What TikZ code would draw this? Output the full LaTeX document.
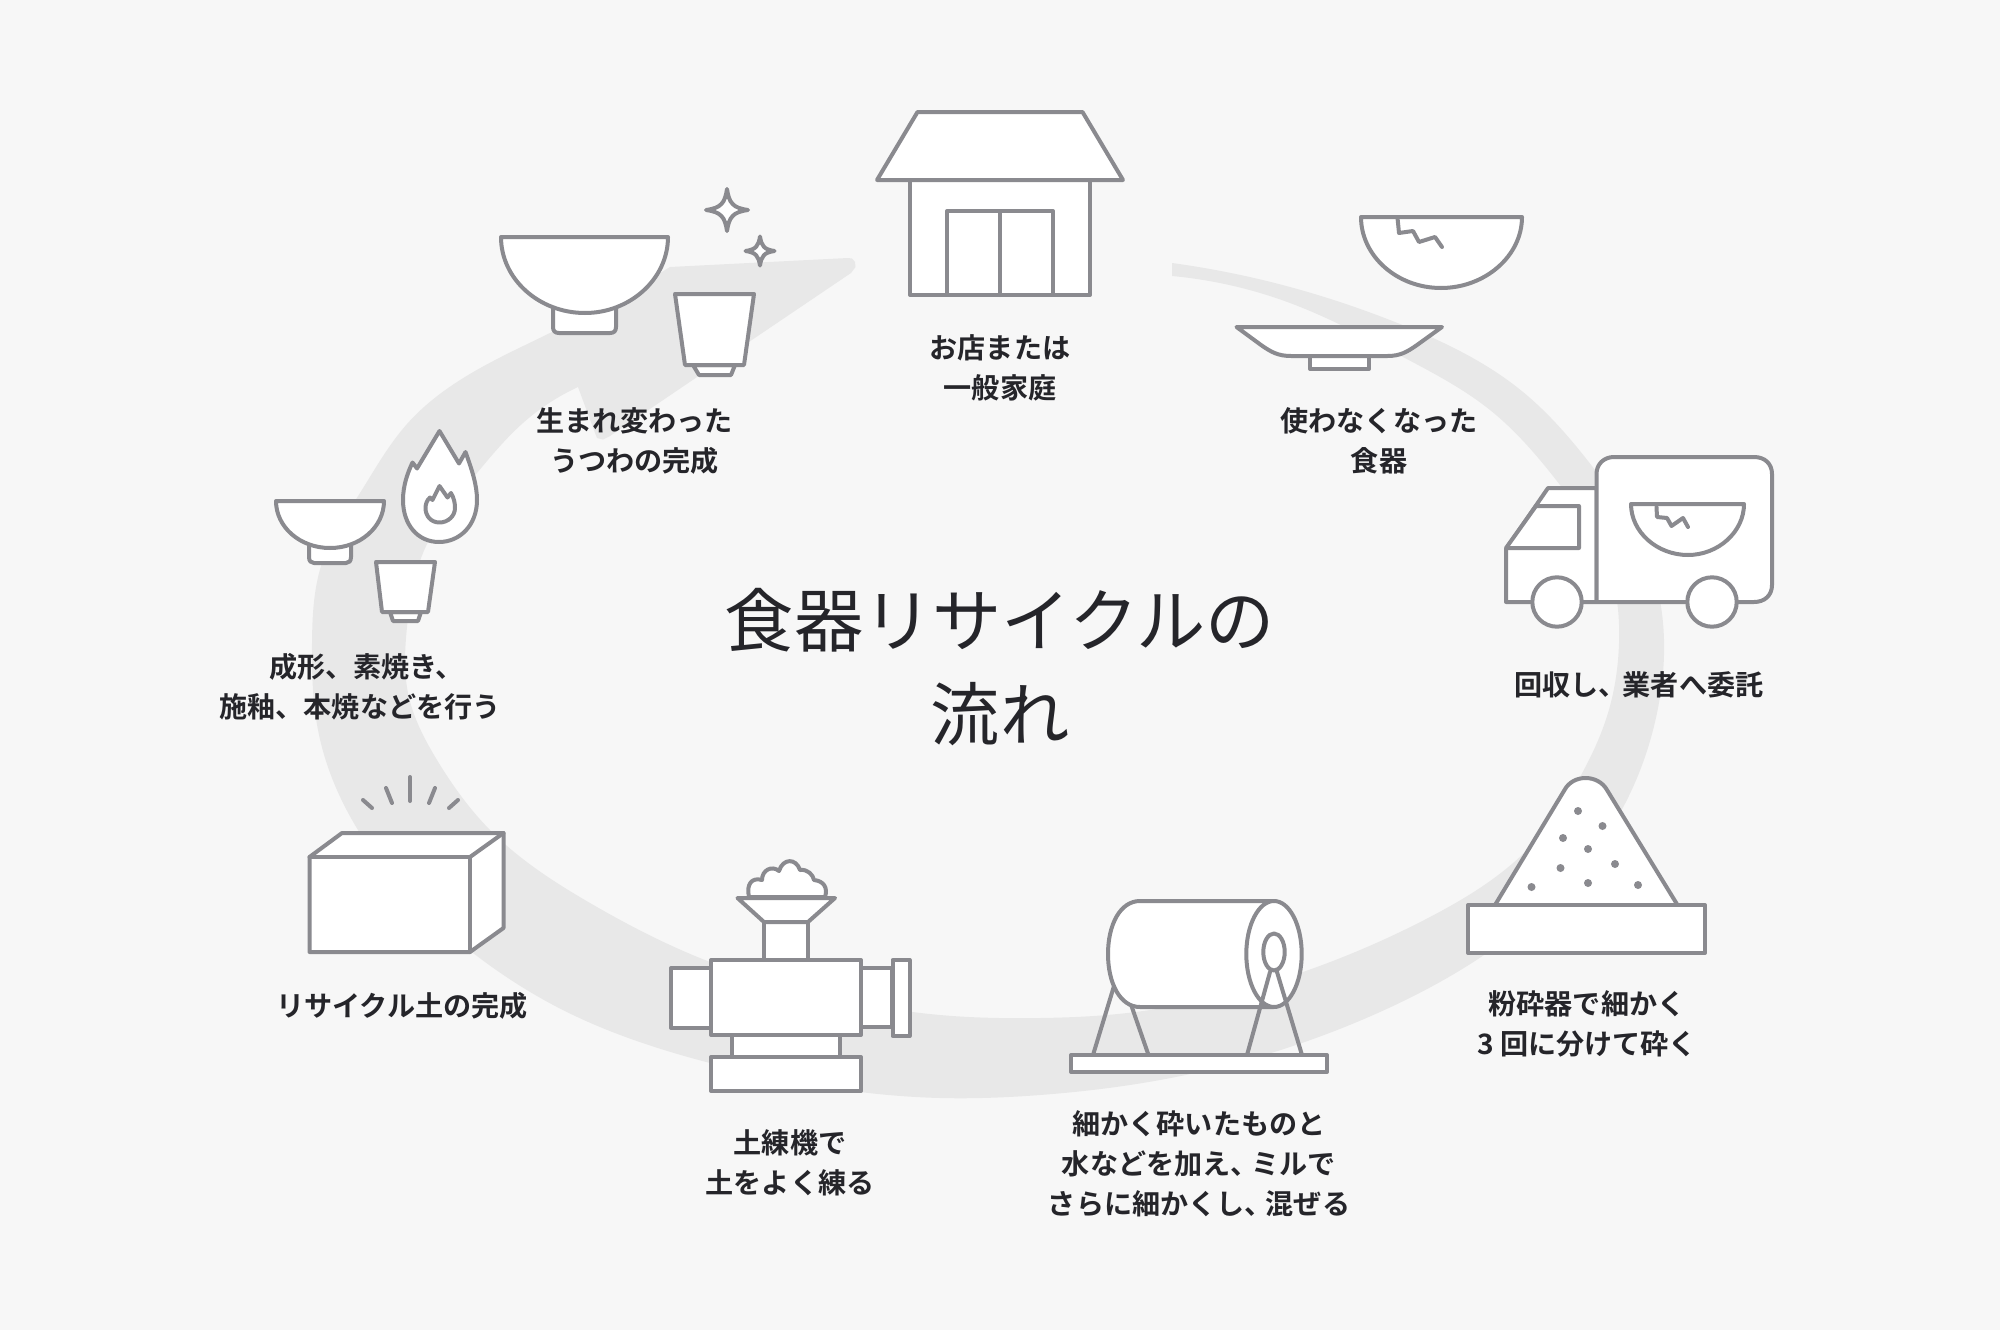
\documentclass[tikz,border=0pt]{standalone}
\usepackage{fontspec}
\usetikzlibrary{hobby}
\setmainfont{Noto Sans CJK JP Bold}
\newfontfamily\titlefont{Noto Sans CJK JP}
\definecolor{bgc}{HTML}{F7F7F7}
\definecolor{bandc}{HTML}{E8E8E8}
\definecolor{strokec}{HTML}{8A8A8F}
\definecolor{textc}{HTML}{25252A}
\tikzset{
  ic/.style={draw=strokec,fill=white,line width=0.2cm,line join=round,line cap=round},
  il/.style={draw=strokec,line width=0.2cm,line join=round,line cap=round},
  lab/.style={text=textc,align=center,inner sep=0pt,font=\fontsize{40}{56.9}\selectfont},
  ttl/.style={text=textc,align=center,inner sep=0pt,font=\titlefont\fontsize{98.5}{134}\selectfont},
  dot/.style={fill=strokec,draw=none}
}
\begin{document}
\begin{tikzpicture}[x=0.05cm,y=-0.05cm]
\useasboundingbox (0,0) rectangle (2000,1330);
\fill[bgc] (0,0) rectangle (2000,1330);
% band arrow
\fill[bandc,use Hobby shortcut] (1172,263) .. (1290,287) .. (1400,324) .. (1523,392) .. (1595,470) .. (1645,550) .. (1664,640) .. (1657,713) .. (1620,813) .. (1487,953) .. (1380,1012) .. (1160,1080) .. (1040,1095) .. (940,1098) .. (860,1092) .. (710,1063) .. (557,1007) .. (473,953) .. (358,830) .. (318,730) .. (312,643) .. (323,560) .. (360,493) .. (407,424) .. (457,382) .. (550,333) .. (670,267)
 -- (848,258) -- (852,258.5) -- (855,262) -- (855.5,267) -- (851,273) -- (703,373) -- (610,436) -- (603,439.5) -- (597,438) -- (595,433) -- (578,387)
 .. (523,423) .. (477,473) .. (423,553) .. (407,627) .. (408,693) .. (437,760) .. (490,830) .. (590,903) .. (710,962) .. (820,995) .. (940,1015) .. (1040,1018) .. (1107,1015) .. (1300,973) .. (1430,917) .. (1530,847) .. (1580,777) .. (1608,713) .. (1619,643) .. (1610,570) .. (1560,485) .. (1490,410) .. (1403,357) .. (1290,303) .. (1172,276) -- cycle;
% house
\path[ic] (910,180) rectangle (1090,295);
\path[ic] (947,211) rectangle (1053,295);
\draw[il] (1000,211) -- (1000,295);
\path[ic] (917.5,112) -- (1082.5,112) -- (1123,180) -- (877,180) -- cycle;
% finished bowl
\path[ic] (553,300) -- (553,327) .. controls (553,331) and (555,333) .. (559,333) -- (610,333) .. controls (614,333) and (616,331) .. (616,327) -- (616,300) -- cycle;
\path[ic] (501,237) -- (668,237) .. controls (668,279) and (630,313) .. (585,313) .. controls (539,313) and (501,279) .. (501,237) -- cycle;
\path[ic] (693,365) -- (699,375) -- (731,375) -- (735,365) -- cycle;
\path[ic] (675,294) -- (754,294) -- (744,365) -- (685,365) -- cycle;
\path[ic] (727,189) .. controls (729,203) and (733,208) .. (748,210) .. controls (733,212) and (729,217) .. (727,231) .. controls (725,217) and (721,212) .. (706,210) .. controls (721,208) and (725,203) .. (727,189) -- cycle;
\path[ic] (760,236.5) .. controls (761.5,246) and (764,249.5) .. (774.5,251) .. controls (764,252.5) and (761.5,256) .. (760,265.5) .. controls (758.5,256) and (756,252.5) .. (745.5,251) .. controls (756,249.5) and (758.5,246) .. (760,236.5) -- cycle;
% plate
\path[ic] (1310,350) rectangle (1369,369);
\path[ic] (1236.5,327) -- (1442,327) -- (1417,345) .. controls (1407,352) and (1400,356) .. (1387.5,356) -- (1291,356) .. controls (1278,356) and (1271,352) .. (1261,345) -- cycle;
% cracked bowl
\path[ic] (1361,217) -- (1522,217) .. controls (1522,256) and (1485,288) .. (1441,288) .. controls (1397,288) and (1361,256) .. (1361,217) -- cycle;
\draw[il] (1397.5,218) -- (1399,233) -- (1413,231) -- (1419,242) -- (1435,237) -- (1442,247);
% truck
\path[ic] (1596.5,488) -- (1548,488) -- (1506,549) -- (1506,602) -- (1596.5,602) -- cycle;
\path[ic] (1536,506) -- (1579,506) -- (1579,548) -- (1506,548) -- cycle;
\path[ic] (1596.5,602) -- (1596.5,474) .. controls (1596.5,464) and (1604,457) .. (1614,457) -- (1754,457) .. controls (1765,457) and (1772,464) .. (1772,474) -- (1772,585) .. controls (1772,595) and (1765,602) .. (1754,602) -- cycle;
\path[ic] (1557,602) circle[radius=24.7];
\path[ic] (1712,602) circle[radius=24.7];
\path[ic] (1631,504) -- (1744,504) .. controls (1744,532) and (1718,555) .. (1688,555) .. controls (1657,555) and (1631,532) .. (1631,504) -- cycle;
\draw[il] (1656.5,507) -- (1657,517) -- (1667,518) -- (1671.5,526) -- (1683,518) -- (1688,527);
% pile
\path[ic] (1495,905) -- (1564.5,790) .. controls (1573,774) and (1598,774) .. (1607,790) -- (1677.5,905) -- cycle;
\path[ic] (1468,905) rectangle (1705,953);
\foreach \p in {(1578,811),(1602.5,826),(1563,838),(1588,849),(1560.5,868),(1615,864),(1531.5,887),(1588,883),(1638,885)}
  \fill[dot] \p circle[radius=4];
% mill
\path[ic] (1071,1055) rectangle (1327,1072);
\draw[il] (1114,986) -- (1093,1055);
\draw[il] (1131.5,1006) -- (1148.5,1055);
\path[ic] (1273.5,901) -- (1140,901) .. controls (1120,901) and (1108,925) .. (1108,954) .. controls (1108,983) and (1120,1007) .. (1140,1007) -- (1273.5,1007) -- cycle;
\path[ic] (1274,954) ellipse[x radius=27.7,y radius=53];
\draw[il] (1270,972) -- (1247,1055);
\draw[il] (1277,972) -- (1302,1055);
\path[ic] (1274,952) ellipse[x radius=10.7,y radius=18.5];
% grinder
\path[ic] (671,968) rectangle (711,1028);
\path[ic] (861,968) rectangle (892,1027);
\path[ic] (892.5,960) rectangle (909.5,1036);
\path[ic] (732,1035) rectangle (840,1057);
\path[ic] (711,1057) rectangle (861,1091);
\path[ic] (711,960) rectangle (861,1035);
\path[ic] (764,922) rectangle (808,960);
\path[ic] (749,897) .. controls (746,884) and (752,877) .. (762,880) .. controls (762,870) and (772,865) .. (779,871) .. controls (783,858) and (796,858) .. (800,870) .. controls (808,869) and (813,875) .. (814,880) .. controls (824,881) and (828,888) .. (825,897) -- cycle;
\path[ic] (737.5,898) -- (835,898) -- (808,922) -- (764,922) -- cycle;
% clay box
\path[ic] (309.5,857) -- (342,833) -- (503.5,833) -- (503.5,928) -- (470,952) -- (309.5,952) -- cycle;
\draw[il] (309.5,857) -- (470,857) -- (470,952);
\draw[il] (470,857) -- (503.5,833);
\draw[il] (363,800) -- (372,808);
\draw[il] (386,788) -- (392,803);
\draw[il] (410,777) -- (410,801);
\draw[il] (435,788) -- (429,803);
\draw[il] (458,800) -- (449,808);
% firing
\path[ic] (309,540) -- (309,557) .. controls (309,561) and (311,563) .. (314,563) -- (346,563) .. controls (349,563) and (351,561) .. (351,557) -- (351,540) -- cycle;
\path[ic] (276,501) -- (384,501) .. controls (384,527) and (360,548) .. (330,548) .. controls (300,548) and (276,527) .. (276,501) -- cycle;
\path[ic] (390,612) -- (393,621) -- (418,621) -- (421,612) -- cycle;
\path[ic] (376,562) -- (435,562) -- (428,612) -- (382,612) -- cycle;
\path[ic] (439.5,431) -- (459,463.5) -- (465.5,452) .. controls (472,470) and (477,485) .. (477,500) .. controls (477,525) and (460,542) .. (439,542) .. controls (418,542) and (403,525) .. (403,500) .. controls (403,485) and (408,472) .. (412.5,462.5) -- (417,468.5) -- cycle;
\path[ic] (439.5,486) -- (447.5,497.5) -- (451,493) .. controls (454,498) and (455,503) .. (455,508) .. controls (455,516) and (448,522.5) .. (439.5,522.5) .. controls (431,522.5) and (425.5,516) .. (425.5,508) .. controls (425.5,504) and (427,500) .. (430,497.5) -- (432.5,500) -- cycle;
% labels
\node[lab] (shop) at (1000,368) {お店または\\一般家庭};
\node[lab] (unused) at (1379,441) {使わなくなった\\食器};
\node[lab] (collect) at (1639,685) {回収し、\kern-0.15em 業者へ委託};
\node[lab] (crush) at (1587,1023.5) {粉砕器で細かく\\3 回に分けて砕く};
\node[lab] (mix) at (1199,1163.5) {細かく砕いたものと\\水などを加え、\kern-0.25em ミルで\\さらに細かくし、\kern-0.25em 混ぜる};
\node[lab] (knead) at (790,1162.5) {土練機で\\土をよく練る};
\node[lab] (clay) at (402,1005.5) {リサイクル土の完成};
\node[lab] (fire) at (360,686.5) {\hspace*{0.46em}成形、素焼き、\\施釉、本焼などを行う};
\node[lab] (done) at (634.5,441) {生まれ変わった\\うつわの完成};
\node[ttl] (title) at (1000,667) {食器リサイクルの\\流れ};
\end{tikzpicture}
\end{document}
